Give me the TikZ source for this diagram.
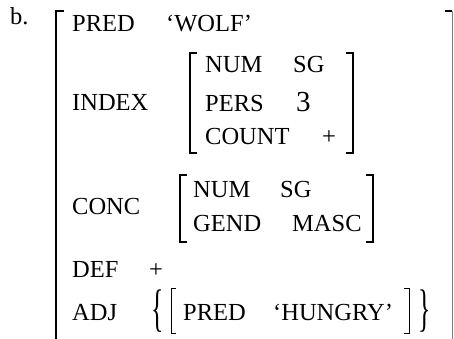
\documentclass[tikz,border=0pt]{standalone}
\usepackage{fontspec}
\setmainfont{Liberation Serif}

\begin{document}
\begin{tikzpicture}[x=1pt,y=-1pt,
    every node/.style={inner sep=0pt,anchor=base west,font=\fontsize{24.5}{28}\selectfont},
    brk/.style={line width=1.4pt},
    thinbrk/.style={line width=0.8pt}]
  \useasboundingbox (0,0) rectangle (454,339);

  \node (lbl) at (10,25) {b.};

  % outer matrix
  \draw [line width=2pt] (64,11) -- (56,11) -- (56,345);
  \draw [line width=2pt] (445,11) -- (452,11);
  \draw [line width=0.7pt,gray] (452,11) -- (452,345);

  \node (pred) at (72,32) {PRED};
  \node (wolf) at (166,32) {`WOLF'};

  % INDEX value
  \node (index) at (72,111) {INDEX};
  \draw [brk] (197,53) -- (190,53) -- (190,153) -- (197,153);
  \draw [brk] (346,53) -- (353,53) -- (353,153) -- (346,153);
  \node (inum) at (205,73) {NUM};
  \node (isg) at (293,73) {SG};
  \node (ipers) at (205,112) {PERS};
  \node [font=\fontsize{29}{32}\selectfont] (ithree) at (296,112) {3};
  \node (icount) at (205,144) {COUNT};
  \node (iplus) at (322,144) {+};

  % CONC value
  \node (conc) at (72,214) {CONC};
  \draw [brk] (187,175) -- (180,175) -- (180,242) -- (187,242);
  \draw [brk] (366,175) -- (373,175) -- (373,242) -- (366,242);
  \node (cnum) at (193,197) {NUM};
  \node (csg) at (280,197) {SG};
  \node (cgend) at (193,231) {GEND};
  \node (cmasc) at (292,231) {MASC};

  \node (def) at (72,277) {DEF};
  \node (defval) at (149,277) {+};

  % ADJ set
  \node (adj) at (72,320) {ADJ};
  \node [anchor=west] (lset) at (151,311) {\scalebox{1.05}[2.1]{\{}};
  \draw [thinbrk] (176,288) -- (171,288) -- (171,333) -- (176,333);
  \node (apred) at (183,320) {PRED};
  \node (hungry) at (273,320) {`HUNGRY'};
  \draw [thinbrk] (404,288) -- (409,288) -- (409,333) -- (404,333);
  \node [anchor=west] (rset) at (418,311) {\scalebox{1.05}[2.1]{\}}};
\end{tikzpicture}
\end{document}
